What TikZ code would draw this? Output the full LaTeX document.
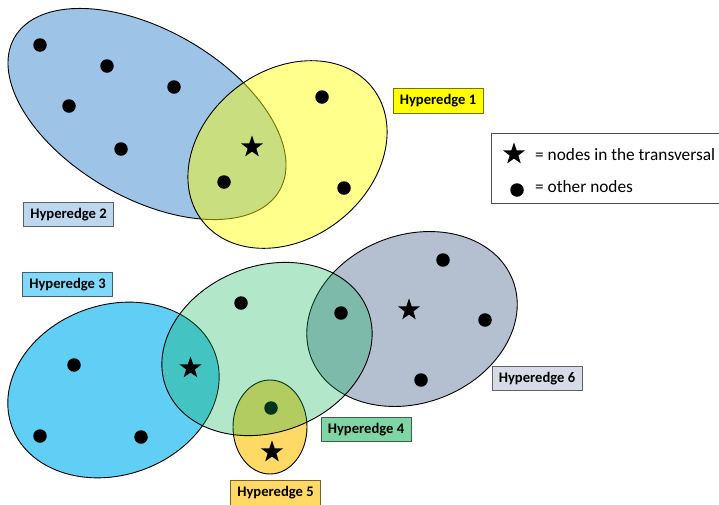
\documentclass[tikz,border=0pt]{standalone}
\usepackage{fontspec}
\setmainfont{Carlito}
\usetikzlibrary{shapes.geometric}
\definecolor{eTwo}{HTML}{9DC3E6}
\definecolor{eOne}{HTML}{FFFF00}
\definecolor{eThree}{HTML}{61CEF5}
\definecolor{eSix}{HTML}{B4BFD0}
\definecolor{eFive}{HTML}{FFD966}
\definecolor{eFour}{HTML}{00B050}
\definecolor{lOne}{HTML}{FFFF00}
\definecolor{lTwo}{HTML}{BDD7EE}
\definecolor{lThree}{HTML}{82D8F8}
\definecolor{lFour}{HTML}{7FD5A3}
\definecolor{lFive}{HTML}{FFD966}
\definecolor{lSix}{HTML}{D6DCE5}
\begin{document}
\begin{tikzpicture}[x=1pt,y=-1pt,
  edgeline/.style={draw=black,line width=0.9pt},
  dot/.style={circle,fill=black,inner sep=0pt,minimum size=13.5pt},
  tstar/.style={star,star points=5,star point ratio=2.5,fill=black,inner sep=0pt,minimum size=23pt},
  hlabel/.style={draw=#1!45!black,fill=#1,line width=0.9pt,minimum width=90pt,minimum height=24.5pt,inner sep=0pt,
    font=\fontsize{14.6}{17}\selectfont\bfseries},
  legtext/.style={anchor=west,inner sep=0pt,font=\fontsize{17.3}{20}\selectfont}]
\clip (0,0) rectangle (719,504);
\fill[white] (0,0) rectangle (719,504);
% hyperedge 2
\coordinate (c2) at (147,114);
\draw[edgeline,fill=eTwo,rotate around={-30:(c2)}] (c2) ellipse [x radius=153pt,y radius=84pt];
% hyperedge 1
\coordinate (c1) at (287.5,154.5);
\draw[edgeline,fill=eOne,fill opacity=0.45,rotate around={38:(c1)}] (c1) ellipse [x radius=108pt,y radius=84pt];
% hyperedge 3
\coordinate (c3) at (113.5,390);
\draw[edgeline,fill=eThree,rotate around={19.5:(c3)}] (c3) ellipse [x radius=108pt,y radius=85pt];
% hyperedge 6
\coordinate (c6) at (412,319);
\draw[edgeline,fill=eSix,rotate around={21:(c6)}] (c6) ellipse [x radius=108pt,y radius=84pt];
% hyperedge 5
\coordinate (c5) at (270,427);
\draw[edgeline,fill=eFive] (c5) ellipse [x radius=37pt,y radius=47pt];
\node[dot] (n45) at (271,408) {};
% hyperedge 4
\coordinate (c4) at (267,349);
\draw[edgeline,fill=eFour,fill opacity=0.3,rotate around={21:(c4)}] (c4) ellipse [x radius=108pt,y radius=83pt];
% nodes of hyperedge 2 and 1
\node[dot] (a1) at (40,45) {};
\node[dot] (a2) at (107,66) {};
\node[dot] (a3) at (174,87) {};
\node[dot] (a4) at (69,106) {};
\node[dot] (a5) at (121,149) {};
\node[dot] (a6) at (224,182) {};
\node[dot] (b1) at (322,97) {};
\node[dot] (b2) at (344,188) {};
\node[tstar] (s1) at (252,147) {};
% nodes of hyperedges 3,4,6
\node[dot] (c3a) at (74,365) {};
\node[dot] (c3b) at (40,436) {};
\node[dot] (c3c) at (141,437) {};
\node[tstar] (s2) at (190.5,368) {};
\node[dot] (d1) at (241,303) {};
\node[dot] (d2) at (341,313) {};
\node[tstar] (s3) at (272,452) {};
\node[dot] (f1) at (443,260) {};
\node[dot] (f2) at (485,320) {};
\node[dot] (f3) at (421,380) {};
\node[tstar] (s4) at (409,310) {};
% labels
\node[hlabel=lOne] (L1) at (438,101) {Hyperedge 1};
\node[hlabel=lTwo] (L2) at (68.5,214.5) {Hyperedge 2};
\node[hlabel=lThree] (L3) at (67.5,284.5) {Hyperedge 3};
\node[hlabel=lFour] (L4) at (366,429.5) {Hyperedge 4};
\node[hlabel=lFive] (L5) at (275.5,493) {Hyperedge 5};
\node[hlabel=lSix] (L6) at (537,378.5) {Hyperedge 6};
% legend
\draw[draw=black!70,line width=1pt] (491,133) rectangle (740,203);
\node[tstar] (ls) at (514,154) {};
\node[dot] (ld) at (517,190) {};
\node[legtext] (lt1) at (535,155) {= nodes in the transversal};
\node[legtext] (lt2) at (535,187) {= other nodes};
\end{tikzpicture}
\end{document}
